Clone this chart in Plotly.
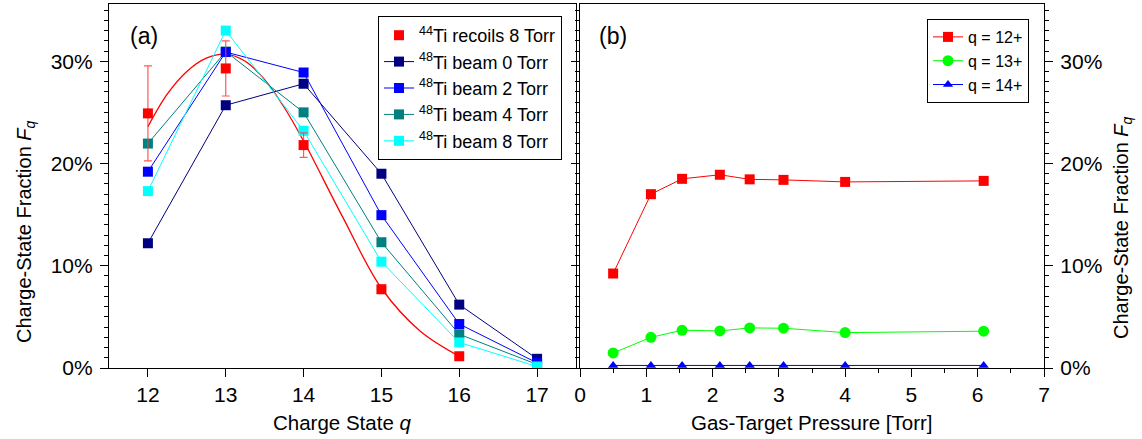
import plotly.graph_objects as go

# ---------------- data ----------------
charge_state = [12, 13, 14, 15, 16, 17]
ti44_q = [12, 13, 14, 15, 16]
ti44_recoils_8torr = [24.9, 29.3, 21.8, 7.7, 1.15]
ti44_err = [4.65, 2.7, 1.2, 0.4, 0.2]
ti44_fit_q = [12, 12.25, 12.5, 12.75, 13, 13.25, 13.5, 13.75, 14, 14.5, 15, 15.5, 16]
ti44_fit_f = [23.6, 26.8, 29.0, 30.3, 30.7, 30.0, 28.2, 25.5, 22.2, 14.8, 7.8, 3.6, 1.15]
beam_0torr = [12.2, 25.7, 27.8, 19.0, 6.2, 0.9]
beam_2torr = [19.2, 30.9, 28.9, 14.95, 4.3, 0.5]
beam_4torr = [21.95, 30.95, 25.0, 12.3, 3.3, 0.35]
beam_8torr = [17.3, 33.0, 23.2, 10.4, 2.5, 0.15]

pressure = [0.5, 1.07, 1.54, 2.11, 2.56, 3.07, 4.0, 6.09]
frac_q12 = [9.24, 17.0, 18.5, 18.9, 18.45, 18.4, 18.2, 18.3]
frac_q13 = [1.47, 3.0, 3.69, 3.63, 3.92, 3.89, 3.46, 3.6]
frac_q14 = [0.25, 0.25, 0.25, 0.25, 0.25, 0.25, 0.25, 0.25]

left_ticks = [12, 13, 14, 15, 16, 17]
y_ticks = [0, 10, 20, 30]
y_tick_labels = ["0%", "10%", "20%", "30%"]

FONT = "Liberation Sans, Arial, sans-serif"
W, H = 1142, 439
L, R, T, B = 109, 1044, 4, 368  # plot area pixels


def px_x(p):
    return (p - L) / (R - L)


def px_y(p):
    return (B - p) / (B - T)


fig = go.Figure()

# ---- left panel ----
fig.add_trace(go.Scatter(
    x=ti44_fit_q, y=ti44_fit_f, mode="lines", line=dict(color="#FF0000", width=1.3, shape="spline"),
    showlegend=False, hoverinfo="skip", xaxis="x", yaxis="y"))

beam_series = [
    ("<sup>48</sup>Ti beam 0 Torr", beam_0torr, "#000080", 2),
    ("<sup>48</sup>Ti beam 4 Torr", beam_4torr, "#008080", 4),
    ("<sup>48</sup>Ti beam 2 Torr", beam_2torr, "#0000FF", 3),
    ("<sup>48</sup>Ti beam 8 Torr", beam_8torr, "#00FFFF", 5),
]
for name, vals, col, rank in beam_series:
    fig.add_trace(go.Scatter(
        x=charge_state, y=vals, mode="lines+markers", name=name,
        line=dict(color=col, width=1),
        marker=dict(symbol="square", size=10, color=col, line=dict(width=0)),
        legendrank=rank, xaxis="x", yaxis="y", legend="legend"))

fig.add_trace(go.Scatter(
    x=ti44_q, y=ti44_recoils_8torr, mode="markers", name="<sup>44</sup>Ti recoils 8 Torr",
    marker=dict(symbol="square", size=10, color="#FF0000", line=dict(width=0)),
    error_y=dict(type="data", array=ti44_err, visible=True, color="rgba(255,60,60,0.85)",
                 thickness=1.2, width=4),
    legendrank=1, xaxis="x", yaxis="y", legend="legend"))

# ---- right panel ----
right_series = [
    ("q = 12+", frac_q12, "#FF0000", "square", 10),
    ("q = 13+", frac_q13, "#00FF00", "circle", 11),
    ("q = 14+", frac_q14, "#0000FF", "triangle-up", 9),
]
for name, vals, col, sym, sz in right_series:
    fig.add_trace(go.Scatter(
        x=pressure, y=vals, mode="lines+markers", name=name,
        line=dict(color=col, width=1),
        marker=dict(symbol=sym, size=sz, color=col, line=dict(width=0)),
        xaxis="x2", yaxis="y2", legend="legend2", cliponaxis=False))

axis_common = dict(showline=True, linecolor="black", linewidth=1.2, ticks="outside",
                   tickcolor="black", tickwidth=1.2, ticklen=8, showgrid=False, zeroline=False,
                   automargin=False,
                   tickfont=dict(family=FONT, size=21, color="black"))

split = 576
split2 = 580
fig.update_layout(
    template="none",
    width=W, height=H,
    margin=dict(l=L, r=W - R, t=T, b=H - B, pad=0),
    paper_bgcolor="white", plot_bgcolor="white",
    font=dict(family=FONT, color="black"),
    xaxis=dict(domain=[0, px_x(split)], range=[11.5, 17.5], tickvals=left_ticks,
               anchor="y", mirror=True, **axis_common),
    xaxis3=dict(overlaying="x", anchor="y", side="top", range=[11.5, 17.5], tickvals=left_ticks,
                ticks="inside", ticklen=8, tickwidth=1.2, tickcolor="black", showticklabels=False,
                showline=False, showgrid=False, zeroline=False, automargin=False),
    yaxis=dict(domain=[0, 1], range=[0, 35.6], tickvals=y_ticks, ticktext=y_tick_labels,
               anchor="x", mirror=True, ticklabelstandoff=3,
               minor=dict(dtick=1, tick0=0, ticks="outside", ticklen=4, tickwidth=1, tickcolor="black"),
               **axis_common),
    xaxis2=dict(domain=[px_x(split2), 1], range=[0, 7], dtick=1, tick0=0, anchor="y2", mirror=True,
                minor=dict(dtick=0.5, tick0=0, ticks="outside", ticklen=4, tickwidth=1, tickcolor="black"),
                **axis_common),
    xaxis4=dict(overlaying="x2", anchor="y2", side="top", range=[0, 7], dtick=1, tick0=0,
                ticks="inside", ticklen=8, tickwidth=1.2, tickcolor="black", showticklabels=False,
                minor=dict(dtick=0.5, tick0=0, ticks="inside", ticklen=4, tickwidth=1, tickcolor="black"),
                showline=False, showgrid=False, zeroline=False, automargin=False),
    yaxis2=dict(domain=[0, 1], range=[0, 35.6], tickvals=y_ticks, ticktext=y_tick_labels,
                anchor="x2", side="right", mirror="ticks", ticklabelstandoff=3,
                minor=dict(dtick=1, tick0=0, ticks="outside", ticklen=4, tickwidth=1, tickcolor="black"),
                **axis_common),
    legend=dict(x=px_x(562), y=px_y(16), xanchor="right", yanchor="top",
                bordercolor="black", borderwidth=1, bgcolor="white",
                font=dict(family=FONT, size=18, color="black"), tracegroupgap=0,
                traceorder="normal", itemwidth=30),
    legend2=dict(x=px_x(1029), y=px_y(19), xanchor="right", yanchor="top",
                 bordercolor="black", borderwidth=1, bgcolor="white",
                 font=dict(family=FONT, size=16, color="black"), tracegroupgap=0,
                 itemwidth=30),
    showlegend=True,
)

annotations = [
    dict(text="(a)", x=px_x(128), y=px_y(36), xanchor="left", yanchor="middle",
         font=dict(size=23)),
    dict(text="(b)", x=px_x(597), y=px_y(36), xanchor="left", yanchor="middle",
         font=dict(size=23)),
    dict(text="Charge State <i>q</i>", x=px_x(342), y=px_y(423), xanchor="center", yanchor="middle",
         font=dict(size=20.5)),
    dict(text="Gas-Target Pressure [Torr]", x=px_x(812), y=px_y(423), xanchor="center",
         yanchor="middle", font=dict(size=20.5)),
    dict(text="Charge-State Fraction <i>F<sub>q</sub></i>", x=px_x(25), y=px_y(232), textangle=-90,
         xanchor="center", yanchor="middle", font=dict(size=20)),
    dict(text="Charge-State Fraction <i>F<sub>q</sub></i>", x=px_x(1122), y=px_y(228), textangle=-90,
         xanchor="center", yanchor="middle", font=dict(size=20)),
]
for a in annotations:
    a.update(xref="paper", yref="paper", showarrow=False)
    a["font"].update(family=FONT, color="black")
fig.update_layout(annotations=annotations)

fig.write_html("out.html",
               config={"displayModeBar": False},
               post_script="document.body.style.margin='0';document.body.style.padding='0';"
                           "document.body.style.overflow='hidden';")
